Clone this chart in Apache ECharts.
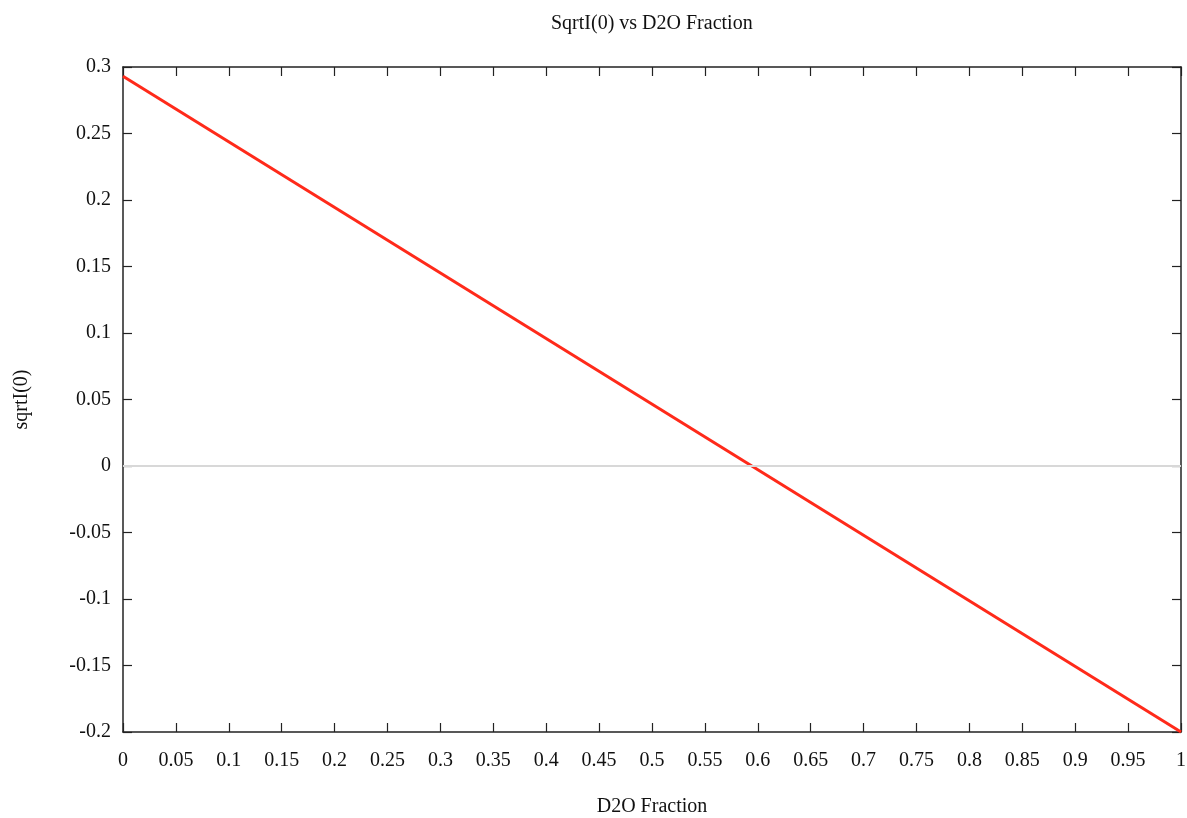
<!DOCTYPE html>
<html>
<head>
<meta charset="utf-8">
<script src="https://cdn.jsdelivr.net/npm/echarts@6/dist/echarts.min.js"></script>
<style>
  html, body { margin: 0; padding: 0; background: #fff; }
  #chart { width: 1187px; height: 818px; }
</style>
</head>
<body>
<div id="chart"></div>
<script>
// Linear fit of sqrt(I(0)) against D2O fraction
const d2oFraction = [0, 1];
const sqrtI0 = [0.293, -0.2];

const xTicks = [0, 1, 0.05];   // min, max, step
const yTicks = [-0.2, 0.3, 0.05];

const FONT = '"Liberation Serif", "DejaVu Serif", serif';
const FONT_SIZE = 20;
const AXIS_COLOR = '#222';

const points = d2oFraction.map((x, i) => [x, sqrtI0[i]]);

const fmt = v => String(Math.round(v * 100) / 100);

const chart = echarts.init(document.getElementById('chart'), null, { renderer: 'canvas' });

const baseAxis = {
  axisLine: { show: true, onZero: false, lineStyle: { color: AXIS_COLOR, width: 1.5 } },
  axisTick: { show: true, inside: true, length: 9, lineStyle: { color: AXIS_COLOR, width: 1.2 } },
  splitLine: { show: false },
  axisLabel: { color: '#111', fontFamily: FONT, fontSize: FONT_SIZE, formatter: fmt }
};

const nameStyle = { fontFamily: FONT, fontSize: FONT_SIZE, color: '#111' };

chart.setOption({
  animation: false,
  backgroundColor: '#fff',
  title: {
    text: 'SqrtI(0) vs D2O Fraction',
    left: 546, top: 9,
    textStyle: { fontFamily: FONT, fontSize: FONT_SIZE, fontWeight: 'normal', color: '#111' }
  },
  grid: {
    left: 123, right: 6, top: 67, bottom: 86,
    containLabel: false, outerBoundsMode: 'none'
  },
  xAxis: [
    Object.assign({}, baseAxis, {
      type: 'value', position: 'bottom',
      min: xTicks[0], max: xTicks[1], interval: xTicks[2],
      name: 'D2O Fraction', nameLocation: 'middle', nameGap: 65,
      nameTextStyle: nameStyle,
      axisLabel: Object.assign({}, baseAxis.axisLabel, { margin: 19 })
    }),
    Object.assign({}, baseAxis, {
      type: 'value', position: 'top',
      min: xTicks[0], max: xTicks[1], interval: xTicks[2],
      axisLabel: { show: false }
    })
  ],
  yAxis: [
    Object.assign({}, baseAxis, {
      type: 'value', position: 'left',
      min: yTicks[0], max: yTicks[1], interval: yTicks[2],
      name: 'sqrtI(0)', nameLocation: 'middle', nameGap: 91, nameRotate: 90,
      nameTextStyle: nameStyle,
      axisLabel: Object.assign({}, baseAxis.axisLabel, { margin: 12 })
    }),
    Object.assign({}, baseAxis, {
      type: 'value', position: 'right',
      min: yTicks[0], max: yTicks[1], interval: yTicks[2],
      axisLabel: { show: false }
    })
  ],
  series: [
    {
      type: 'line',
      data: points,
      showSymbol: false,
      lineStyle: { color: '#ff2a1a', width: 3 },
      markLine: {
        silent: true,
        symbol: 'none',
        label: { show: false },
        lineStyle: { color: '#d8d8d8', width: 2, type: 'solid' },
        data: [{ yAxis: 0 }]
      },
      z: 3
    }
  ]
});
</script>
</body>
</html>
